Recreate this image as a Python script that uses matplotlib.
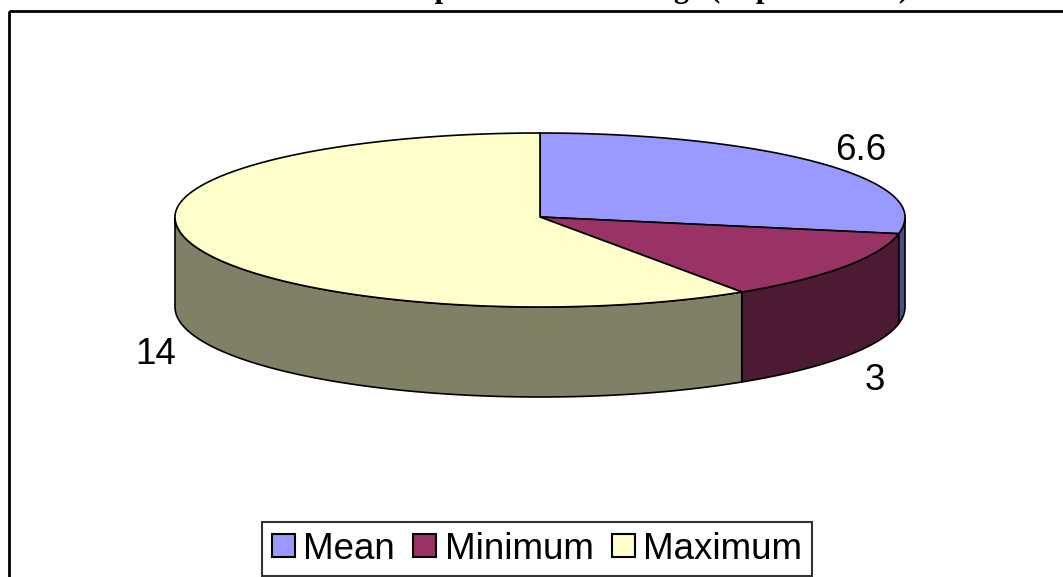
import numpy as np
import matplotlib
matplotlib.use("Agg")
import matplotlib.pyplot as plt
from matplotlib.patches import Polygon, Rectangle

# Data
categories = ["Mean", "Minimum", "Maximum"]
values = [6.6, 3, 14]
value_labels = ["6.6", "3", "14"]
title = "Temperature Rise Range (Experimental)"

top_colors = ["#9999FF", "#993366", "#FFFFCC"]
side_colors = ["#4D4D80", "#4D1A33", "#808066"]

W, H = 1063, 577
fig = plt.figure(figsize=(W / 100, H / 100), dpi=100)
ax = fig.add_axes([0, 0, 1, 1])
ax.set_xlim(0, W)
ax.set_ylim(H, 0)
ax.axis("off")

# Ellipse geometry (pixel units, y pointing down); the near half is
# slightly taller to give a bit of perspective
cx, cy = 540, 217
ra = 365
rb_back, rb_front = 84, 90
depth = 90


def rim(theta_deg, dy=0.0):
    t = np.radians(theta_deg)
    s = np.sin(t)
    rb = np.where(s >= 0, rb_back, rb_front)
    return np.column_stack([cx + ra * np.cos(t), cy - rb * s + dy])


# Slice angles: start at 12 o'clock, clockwise
fracs = np.array(values) / np.sum(values)
spans = fracs * 360.0
starts = 90.0 - np.concatenate([[0], np.cumsum(spans)[:-1]])
ends = starts - spans

# Side walls (front half only: angles 180..360)
for s, e, col in zip(starts, ends, side_colors):
    lo = e % 360
    hi = lo + (s - e)
    for base in (0, 360, -360):
        a0 = max(lo + base, 180)
        a1 = min(hi + base, 360)
        if a1 > a0:
            th = np.linspace(a0, a1, 200)
            upper = rim(th)
            lower = rim(th[::-1], depth)
            ax.add_patch(Polygon(np.vstack([upper, lower]), closed=True,
                                 facecolor=col, edgecolor="black", lw=1.2,
                                 zorder=2))

# Top faces
for s, e, col in zip(starts, ends, top_colors):
    th = np.linspace(s, e, 300)
    pts = np.vstack([[cx, cy], rim(th)])
    ax.add_patch(Polygon(pts, closed=True, facecolor=col,
                         edgecolor="black", lw=1.2, zorder=3))

# Value labels
label_font = dict(family="Liberation Sans", fontsize=26.5, color="black")
for s, e, lab in zip(starts, ends, value_labels):
    m = np.radians((s + e) / 2)
    if np.sin(m) < 0:
        x = cx + 1.1 * ra * np.cos(m)
        y = cy - 1.1 * rb_front * np.sin(m) + depth + 19
    else:
        x = cx + 1.14 * ra * np.cos(m)
        y = cy - 1.1 * rb_back * np.sin(m) - 8
    ax.text(x, y, lab, ha="center", va="center", zorder=5, **label_font)

# Chart frame
ax.add_patch(Rectangle((8.5, 10.5), 1100, 700, fill=False,
                       edgecolor="black", lw=2.0, zorder=1, clip_on=False))

# Title (sits above the frame)
fig.text(644 / W, 1 + 3 / H, title, ha="center", va="baseline",
         family="Liberation Serif", fontweight="bold", fontsize=22)

# Legend
handles = [Rectangle((0, 0), 1, 1, facecolor=c, edgecolor="black", lw=1.5)
           for c in top_colors]
leg = fig.legend(handles, categories, loc="upper center",
                 bbox_to_anchor=(537 / W, 1 - 522 / H), ncol=3,
                 prop=dict(family="Liberation Sans", size=26.5),
                 frameon=True, fancybox=False, edgecolor="black",
                 handlelength=0.63, handleheight=0.55, handletextpad=0.22,
                 columnspacing=0.5, borderpad=0.26, borderaxespad=0)
leg.get_frame().set_linewidth(1.5)

fig.savefig("out.png", dpi=100)
